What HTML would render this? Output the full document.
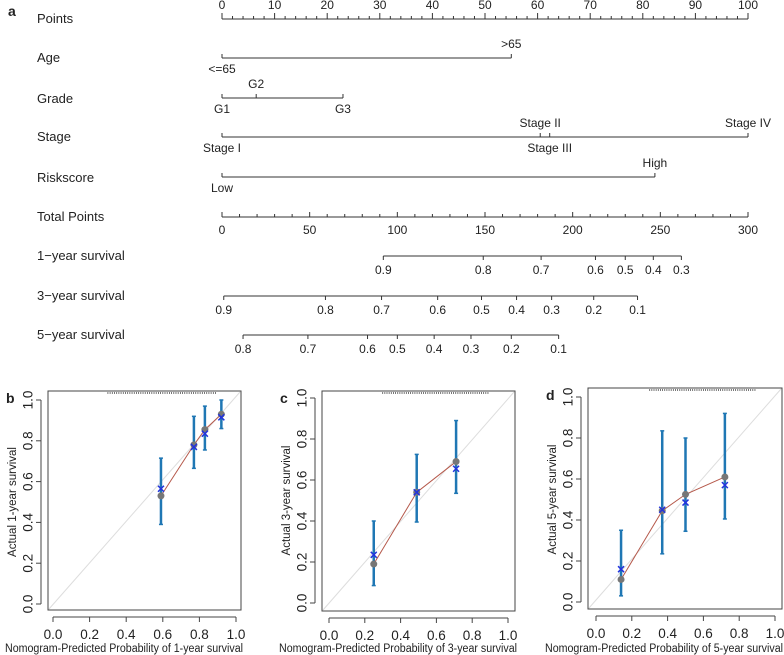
<!DOCTYPE html>
<html><head><meta charset="utf-8"><style>
body{margin:0;background:#fff;}
svg{display:block;font-family:"Liberation Sans",Arial,sans-serif;}
</style></head><body>
<svg id="s" width="784" height="655" viewBox="0 0 784 655" xmlns="http://www.w3.org/2000/svg"></svg>
<script>
// ---- Nomogram data ----
const pointTicks=[0,10,20,30,40,50,60,70,80,90,100];
const totalTicks=[0,50,100,150,200,250,300];
const surv1Labels=[0.9,0.8,0.7,0.6,0.5,0.4,0.3];
const surv1Total=[92,149,182,213,230,246,262];
const surv3Labels=[0.9,0.8,0.7,0.6,0.5,0.4,0.3,0.2,0.1];
const surv3Total=[1,59,91,123,148,168,188,212,237];
const surv5Labels=[0.8,0.7,0.6,0.5,0.4,0.3,0.2,0.1];
const surv5Total=[12,49,83,100,121,142,165,192];
// ---- Calibration data ----
const predB=[0.59,0.77,0.83,0.92], obsB=[0.53,0.78,0.855,0.93], corrB=[0.565,0.77,0.835,0.915], loB=[0.39,0.665,0.755,0.86], hiB=[0.715,0.92,0.97,1.0];
const predC=[0.25,0.49,0.71], obsC=[0.19,0.54,0.69], corrC=[0.235,0.54,0.655], loC=[0.085,0.395,0.535], hiC=[0.40,0.725,0.89];
const predD=[0.14,0.37,0.50,0.72], obsD=[0.11,0.445,0.525,0.61], corrD=[0.16,0.45,0.485,0.57], loD=[0.03,0.235,0.345,0.405], hiD=[0.35,0.835,0.80,0.92];
const calTicks=[0,0.2,0.4,0.6,0.8,1.0];

const S=document.getElementById('s');const NS='http://www.w3.org/2000/svg';
function el(t,a,txt){const e=document.createElementNS(NS,t);for(const k in a)e.setAttribute(k,a[k]);if(txt!==undefined)e.textContent=txt;S.appendChild(e);return e;}
function line(x1,y1,x2,y2,c,w,n){const e=el('line',{x1,y1,x2,y2,stroke:c||'#333','stroke-width':w||1});

return e;}
function text(x,y,s,n,a,size,extra){const e=el('text',Object.assign({x,y,'font-size':size||12,fill:'#222','text-anchor':a||'middle'},extra||{}),s);

return e;}

const X0=222,X1=748;
const px=v=>X0+(X1-X0)*v/100;
const tx=v=>X0+(X1-X0)*v/300;

text(8,16,'a','panel-label-a','start',14,{'font-weight':'bold'});
const rows=[['Points',23],['Age',62],['Grade',103],['Stage',141],['Riskscore',182],['Total Points',221],['1\u2212year survival',260],['3\u2212year survival',300],['5\u2212year survival',339]];
rows.forEach(r=>text(37,r[1],r[0],'row-label','start',13));

line(px(0),19,px(100),19,'#333',1,'points-axis');
for(let i=0;i<=100;i+=2){line(px(i),19,px(i),i%10===0?13:16,'#333',1,'points-tick');}
pointTicks.forEach(v=>text(px(v),9,String(v),'points-tick-label'));

line(px(0),58,px(55),58,'#333',1,'age-scale');line(px(0),58,px(0),54);line(px(55),58,px(55),54);
text(px(55),48,'>65','age-label');text(px(0),73,'<=65','age-label');
line(px(0),98,px(23),98,'#333',1,'grade-scale');line(px(0),98,px(0),94);line(px(6.5),98,px(6.5),94);line(px(23),98,px(23),94);
text(px(6.5),88,'G2','grade-label');text(px(0),113,'G1','grade-label');text(px(23),113,'G3','grade-label');
line(px(0),137,px(100),137,'#333',1,'stage-scale');line(px(0),137,px(0),133);line(px(60.5),137,px(60.5),133);line(px(62.3),137,px(62.3),133);line(px(100),137,px(100),133);
text(px(60.5),127,'Stage II','stage-label');text(px(100),127,'Stage IV','stage-label');text(px(0),152,'Stage I','stage-label');text(px(62.3),152,'Stage III','stage-label');
line(px(0),177,px(82.3),177,'#333',1,'riskscore-scale');line(px(0),177,px(0),173);line(px(82.3),177,px(82.3),173);
text(px(82.3),167,'High','riskscore-label');text(px(0),192,'Low','riskscore-label');
line(tx(0),217,tx(300),217,'#333',1,'total-points-axis');
for(let i=0;i<=300;i+=10){line(tx(i),217,tx(i),i%50===0?212:214,'#333',1,'total-tick');}
totalTicks.forEach(v=>text(tx(v),234,String(v),'total-tick-label'));
function survScale(labels,tots,y,n){
  line(tx(tots[0]),y,tx(tots[tots.length-1]),y,'#333',1,n+'-axis');
  tots.forEach((t,i)=>{line(tx(t),y,tx(t),y+4,'#333',1,n+'-tick');text(tx(t),y+18,labels[i].toFixed(1),n+'-tick-label');});
}
survScale(surv1Labels,surv1Total,256,'1-year-survival');
survScale(surv3Labels,surv3Total,296,'3-year-survival');
survScale(surv5Labels,surv5Total,335,'5-year-survival');

function panel(cfg){
  const {L,R,T,B,x0,x1,y0,y1,pred,obs,corr,lo,hi,lab,yr,tcx}=cfg;
  const sx=v=>x0+(x1-x0)*v, sy=v=>y0+(y1-y0)*v;
  text(L-42,T+12,lab,'panel-label-'+lab,'start',14,{'font-weight':'bold'});
  const r=el('rect',{x:L,y:T,width:R-L,height:B-T,fill:'none',stroke:'#444','stroke-width':1});
  
  
  line(L+1,B-1,R-1,T+1,'#ddd',1,'ideal-line');
  for(let i=0;i<50;i++){const v=0.3+((i*37)%50)/50*0.6;line(sx(v),T+1,sx(v),T+3,'#555',0.8,'rug-tick');}
  line(x0,B+7,x1,B+7,'#444',1,'x-axis');
  calTicks.forEach(v=>{line(sx(v),B+7,sx(v),B+12,'#444',1,'x-tick');text(sx(v),B+29,v.toFixed(1),'x-tick-label','middle',13.5);});
  line(L-7,y0,L-7,y1,'#444',1,'y-axis');
  calTicks.forEach(v=>{line(L-7,sy(v),L-12,sy(v),'#444',1,'y-tick');text(L-20,sy(v),v.toFixed(1),'y-tick-label','middle',13.5,{transform:`rotate(-90 ${L-20} ${sy(v)})`,dy:'0.35em'});});
  text(tcx,652,'Nomogram-Predicted Probability of '+yr+'-year survival','x-axis-title','middle',11.5,{textLength:238,lengthAdjust:'spacingAndGlyphs'});
  const yc=(y0+y1)/2;
  text(L-36,yc,'Actual '+yr+'-year survival','y-axis-title','middle',11.5,{transform:`rotate(-90 ${L-36} ${yc})`,dy:'0.35em'});
  pred.forEach((p,i)=>{line(sx(p),sy(lo[i]),sx(p),sy(hi[i]),'#1f77b4',2.5,'error-bar');
    line(sx(p)-2,sy(lo[i]),sx(p)+2,sy(lo[i]),'#1f77b4',1.5,'error-cap');line(sx(p)-2,sy(hi[i]),sx(p)+2,sy(hi[i]),'#1f77b4',1.5,'error-cap');});
  const pl=el('polyline',{points:pred.map((p,i)=>sx(p)+','+sy(obs[i])).join(' '),fill:'none',stroke:'#b5584a','stroke-width':1});
  
  
  pred.forEach((p,i)=>{const c=el('circle',{cx:sx(p),cy:sy(obs[i]),r:3.5,fill:'#777'});
    
    });
  pred.forEach((p,i)=>{const x=sx(p),y=sy(corr[i]);line(x-3,y-3,x+3,y+3,'#2233dd',1.5,'corrected-mark');line(x-3,y+3,x+3,y-3,'#2233dd',1.5,'corrected-mark');});
}
panel({L:48,R:241,T:391,B:610,x0:53,x1:236,y0:604,y1:400,pred:predB,obs:obsB,corr:corrB,lo:loB,hi:hiB,lab:'b',yr:'1',tcx:124});
panel({L:322,R:515,T:391,B:611,x0:329,x1:508,y0:603,y1:398,pred:predC,obs:obsC,corr:corrC,lo:loC,hi:hiC,lab:'c',yr:'3',tcx:398});
panel({L:588,R:782,T:388,B:609,x0:596,x1:775,y0:602,y1:397,pred:predD,obs:obsD,corr:corrD,lo:loD,hi:hiD,lab:'d',yr:'5',tcx:664});
</script>
</body></html>
